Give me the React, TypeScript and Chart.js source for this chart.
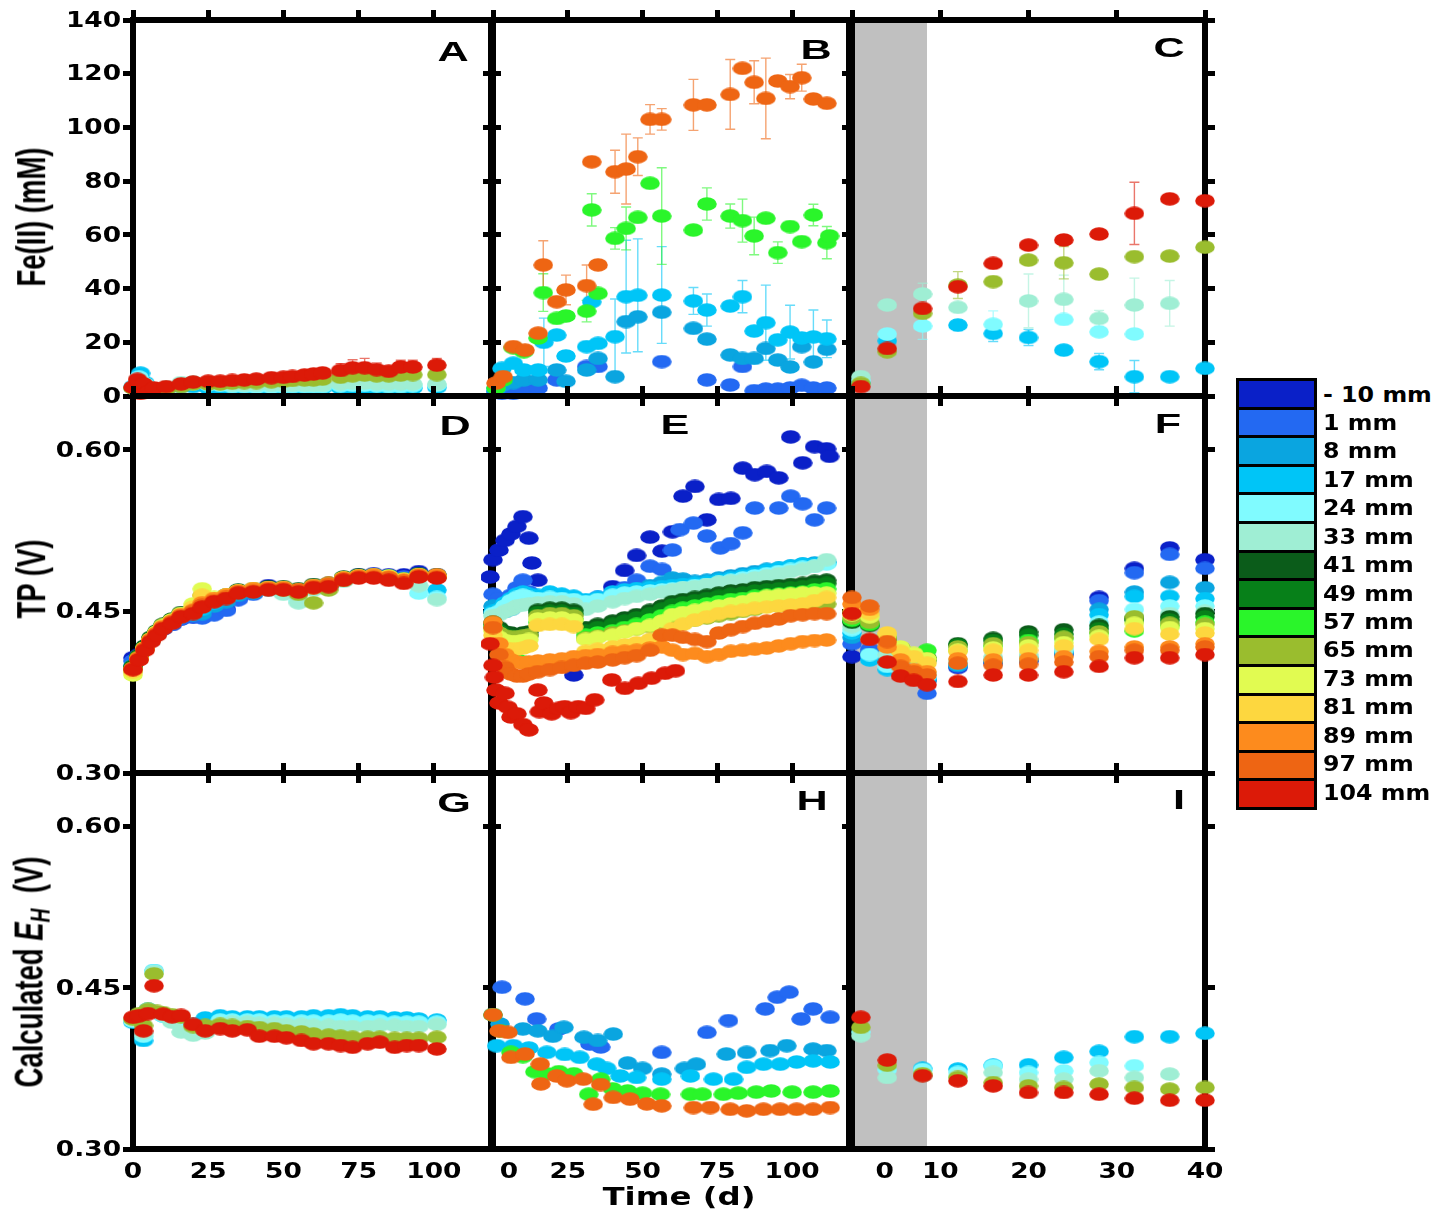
import React, { useEffect, useRef } from 'react';
import { Chart, registerables } from 'chart.js';
Chart.register(...registerables);

type Pt = number[];

// ---------- legend ----------
const depthLabels = ['- 10 mm', '1 mm', '8 mm', '17 mm', '24 mm', '33 mm', '41 mm', '49 mm', '57 mm', '65 mm', '73 mm', '81 mm', '89 mm', '97 mm', '104 mm'];
const depthColors = ['#0a20c8', '#2369f2', '#0aa5e0', '#00c5f7', '#80fbff', '#9feed4', '#0b5c1a', '#078019', '#2af52a', '#9abd2e', '#e1fb51', '#fdd73f', '#fd8b1d', '#ee6513', '#dc1a08'];

// ---------- axes ----------
const feTicks = [0, 20, 40, 60, 80, 100, 120, 140];
const potTicks = [0.3, 0.45, 0.6];
const dayTicks = [0, 25, 50, 75, 100];
const dayTicksC = [0, 10, 20, 30, 40];
const dayLabelsA: [number, string][] = [[0, '0'], [25, '25'], [50, '50'], [75, '75'], [100, '100']];
const dayLabelsB: [number, string][] = [[5.3, '0'], [25, '25'], [50, '50'], [75, '75'], [100, '100']];
const dayLabelsC: [number, string][] = [[3.7, '0'], [10, '10'], [20, '20'], [30, '30'], [40, '40']];
const shadeEndDay = 8.5;

// ---------- A: Fe(II) column 1 ----------
const feA17: Pt[] = [[0, 3.5], [2.5, 8.5], [4, 5], [11, 2.5], [16, 3.5], [20, 3.5], [25, 3], [29, 3], [33, 2.5], [37, 2.5], [41, 2.5], [46, 2.5], [50, 2.8], [53, 3], [57, 3], [60, 3], [63, 3], [69, 3], [73, 3], [77, 3], [81, 3], [85, 3], [89, 3], [93, 3], [101, 3.2]];
const feA24: Pt[] = [[0, 3.2], [2, 7], [4, 4.5], [11, 3], [16, 4.5], [20, 4.5], [25, 4.2], [29, 4], [33, 3.5], [37, 3.5], [41, 3.2], [46, 3.2], [50, 3.5], [53, 3.5], [57, 3.5], [60, 3.5], [63, 3.5], [69, 3.8], [73, 4], [77, 4], [81, 3.8], [85, 3.5], [89, 3.5], [93, 3.8], [101, 4]];
const feA33: Pt[] = [[0, 3], [2, 5.5], [4, 4], [11, 3.2], [16, 5], [20, 5.2], [25, 5], [29, 4.5], [33, 4.2], [37, 4], [41, 4], [46, 4], [50, 4], [53, 4], [57, 4], [60, 4], [63, 4], [69, 4.5], [73, 4.8], [77, 4.8], [81, 4.5], [85, 4.5], [89, 4.5], [93, 4.5], [101, 4.5]];
const feA65: Pt[] = [[0, 3], [2, 4.5], [4, 3.5], [6, 2], [11, 2.5], [16, 3.5], [20, 4.5], [25, 4.5], [29, 4.5], [33, 4.8], [37, 5], [41, 5], [46, 5.3], [50, 5.5], [53, 5.8], [57, 6], [60, 6], [63, 6.3], [69, 7], [73, 7.5], [77, 7.8], [81, 7.5], [85, 7.5], [89, 7.8], [93, 8], [101, 8]];
const feA104: Pt[] = [[0, 3.3], [1.5, 6.2], [2.5, 1], [3.5, 4.5], [5, 1.5], [7, 3], [11, 3.5], [16, 4.5], [20, 5.2], [25, 5.5], [29, 5.5], [33, 5.8], [37, 6], [41, 6.3], [46, 6.8], [50, 7], [53, 7.3], [57, 7.8], [60, 8.2], [63, 8.6], [69, 9.5, 2.5], [73, 10.5, 3], [77, 10.5, 3.5], [81, 9.8, 2.5], [85, 9.2, 2], [89, 10.8, 2.5], [93, 10.8, 2.5], [101, 11.5, 2.5]];

// ---------- B: Fe(II) column 2 ----------
const feB1: Pt[] = [[1, 1.6], [3, 1], [6.8, 1], [10.3, 2.6], [15.1, 3], [21.3, 6], [31.3, 11], [35.1, 11], [56.4, 12.8], [71.5, 6], [79.3, 4.1], [83.4, 11], [87.3, 2], [91.2, 2.6], [95.2, 2.6], [99.3, 3], [103.2, 4], [107.1, 3], [111.6, 3]];
const feB8: Pt[] = [[1, 2], [3, 4], [6.8, 5], [10.3, 6], [15.1, 6], [21.3, 9.7], [24.4, 5.5], [31.3, 9.7], [35.1, 14], [40.8, 7.2], [44.5, 27.7], [48.4, 29.5], [56.4, 31.2], [67, 25.2], [71.5, 21.2], [79.3, 15.3], [83.4, 14], [87.3, 14], [91.2, 17.7], [95.2, 13.4], [99.3, 10.8], [103.2, 18.4], [107.1, 12.7], [111.6, 17.4]];
const feB17: Pt[] = [[1, 3], [3, 10.3], [6.8, 12.2], [10.3, 9.7], [15.1, 9.7], [17, 20, 9], [21.3, 22.7], [24.4, 14.9], [31.3, 18.4], [33, 35.1], [35.1, 19.6], [40.8, 22.1, 14], [44.5, 37, 21], [48.4, 37.5, 21], [56.4, 37.6, 18], [67, 35.4, 5], [71.5, 32, 6], [79.3, 33.5], [83.4, 37, 6], [87.3, 24.2], [91.2, 27.3, 14], [95.2, 20.9], [99.3, 23.8, 10], [103.2, 21.6], [107.1, 22, 10], [111.6, 21.3, 7]];
const feB57: Pt[] = [[1, 3], [3.4, 6], [6.8, 18], [10.3, 16.5], [15.1, 21.6], [16.8, 38.5, 7], [21.3, 28.9], [24.4, 29.8], [31.3, 31.6, 4], [33, 69.3, 6], [35.1, 38.2], [40.8, 58.7, 4], [44.5, 62.4, 8], [48.4, 66.5], [52.5, 79.2], [56.4, 67, 18], [67, 61.8], [71.5, 71.5, 6], [79.3, 67, 4.5], [83.4, 65.3, 8], [87.3, 59.6, 7], [91.2, 66.2], [95.2, 53.4, 4], [99.3, 63.1], [103.2, 57.5], [107.1, 67.4, 4], [111.6, 57.1, 6], [112.5, 59.6]];
const feB97: Pt[] = [[1, 4.8], [3.4, 7.2], [6.8, 18.4], [10.7, 17.1], [15.1, 23.4], [16.8, 48.8, 9], [21.3, 35.1], [24.4, 39.5, 5.5], [31.3, 41.1, 7.7], [33, 87.2], [35.1, 48.8], [40.8, 83.5, 8], [44.5, 84.5, 13], [48.4, 89.1, 7], [52.5, 103, 5.5], [56.4, 103, 4], [67, 108.4, 9.5], [71.5, 108.4], [79.3, 112.3, 13], [83.4, 122], [87.3, 116.8, 8], [91.2, 110.8, 15], [95.2, 117.3], [99.3, 115.2, 4.5], [103.2, 118.5, 5], [107.1, 110.6], [111.6, 109]];

// ---------- C and I: column 3 sampling days ----------
const tC = [1, 4, 8, 12, 16, 20, 24, 28, 32, 36, 40];
const feC17 = [5, 20.6, null, 26.4, 23.3, 21.8, 17.1, 12.8, 7.2, 7.2, 10.3];
const feC24 = [6, 23.1, 26.1, null, 26.7, null, 28.5, 23.9, 23.1, null, null];
const feC33 = [7.2, 33.9, 38, 33, null, 35.4, 36, 28.9, 33.9, 34.5, null];
const feC65 = [4.7, 16.5, 30.8, 41.3, 42.6, 50.6, 49.6, 45.4, 51.9, 52.1, 55.4];
const feC104 = [3.5, 17.7, 32.6, 40.7, 49.4, 56.2, 58.1, 60.3, 68, 73.4, 72.7];
const errC17 = [0, 0, 0, 2, 3, 3, 0, 3, 6, 0, 0];
const errC24 = [0, 0, 5, 0, 5, 0, 0, 0, 0, 0, 0];
const errC33 = [0, 0, 4, 0, 0, 10, 9, 3, 10, 8.5, 0];
const errC65 = [0, 2, 0, 5, 0, 0, 6, 0, 0, 0, 0];
const errC104 = [0, 0, 0, 0, 0, 0, 0, 0, 11.6, 0, 0];

// ---------- D: TP column 1 (rows = depths -10 .. 104 mm) ----------
const tD = [0, 2, 4, 6, 8, 10, 13, 16, 20, 23, 27, 31, 35, 40, 45, 50, 55, 60, 65, 70, 75, 80, 85, 90, 95, 101];
const tpD: number[][] = [
  [0.407, 0.410, 0.417, 0.424, 0.429, 0.434, 0.438, 0.443, 0.445, 0.445, 0.448, 0.452, 0.462, 0.467, 0.474, 0.471, 0.469, 0.474, 0.475, 0.481, 0.484, 0.485, 0.484, 0.484, 0.487, 0.484],
  [0.404, 0.409, 0.416, 0.423, 0.429, 0.434, 0.438, 0.443, 0.445, 0.444, 0.447, 0.451, 0.461, 0.466, 0.471, 0.470, 0.469, 0.473, 0.474, 0.480, 0.483, 0.484, 0.483, 0.482, 0.485, 0.483],
  [0.400, 0.408, 0.417, 0.424, 0.430, 0.435, 0.440, 0.445, 0.447, 0.448, 0.455, 0.459, 0.465, 0.467, 0.470, 0.469, 0.468, 0.472, 0.474, 0.480, 0.483, 0.483, 0.482, 0.480, 0.484, 0.482],
  [0.399, 0.408, 0.417, 0.424, 0.430, 0.436, 0.440, 0.446, 0.449, 0.452, 0.458, 0.462, 0.467, 0.469, 0.471, 0.470, 0.468, 0.472, 0.474, 0.480, 0.483, 0.484, 0.483, 0.480, 0.484, 0.470],
  [0.398, 0.408, 0.417, 0.425, 0.431, 0.436, 0.441, 0.447, 0.451, 0.457, 0.462, 0.465, 0.469, 0.470, 0.471, 0.467, 0.460, 0.471, 0.473, 0.479, 0.483, 0.483, 0.482, 0.479, 0.467, 0.463],
  [0.397, 0.407, 0.416, 0.424, 0.430, 0.436, 0.441, 0.446, 0.450, 0.456, 0.461, 0.464, 0.468, 0.470, 0.470, 0.466, 0.458, 0.470, 0.472, 0.478, 0.482, 0.482, 0.481, 0.478, 0.474, 0.461],
  [0.399, 0.409, 0.418, 0.426, 0.432, 0.438, 0.443, 0.449, 0.452, 0.458, 0.462, 0.465, 0.470, 0.471, 0.473, 0.473, 0.471, 0.475, 0.476, 0.482, 0.484, 0.484, 0.483, 0.480, 0.485, 0.484],
  [0.398, 0.408, 0.417, 0.425, 0.431, 0.437, 0.442, 0.448, 0.451, 0.457, 0.461, 0.464, 0.469, 0.470, 0.472, 0.472, 0.470, 0.474, 0.475, 0.481, 0.483, 0.483, 0.482, 0.479, 0.484, 0.483],
  [0.397, 0.407, 0.416, 0.424, 0.430, 0.436, 0.441, 0.447, 0.450, 0.456, 0.461, 0.464, 0.468, 0.470, 0.471, 0.471, 0.469, 0.473, 0.475, 0.481, 0.483, 0.483, 0.482, 0.479, 0.484, 0.483],
  [0.394, 0.407, 0.416, 0.424, 0.431, 0.437, 0.442, 0.448, 0.454, 0.465, 0.462, 0.465, 0.469, 0.470, 0.471, 0.470, 0.466, 0.458, 0.470, 0.479, 0.482, 0.483, 0.482, 0.479, 0.483, 0.482],
  [0.391, 0.406, 0.416, 0.424, 0.431, 0.437, 0.442, 0.448, 0.457, 0.471, 0.463, 0.465, 0.469, 0.471, 0.472, 0.472, 0.469, 0.472, 0.475, 0.481, 0.483, 0.484, 0.483, 0.480, 0.484, 0.483],
  [0.394, 0.406, 0.416, 0.424, 0.430, 0.436, 0.441, 0.447, 0.454, 0.465, 0.462, 0.465, 0.469, 0.471, 0.472, 0.472, 0.470, 0.474, 0.475, 0.481, 0.483, 0.483, 0.482, 0.479, 0.484, 0.483],
  [0.397, 0.407, 0.416, 0.424, 0.430, 0.436, 0.441, 0.447, 0.451, 0.458, 0.462, 0.465, 0.469, 0.471, 0.472, 0.472, 0.470, 0.474, 0.476, 0.481, 0.483, 0.484, 0.482, 0.479, 0.484, 0.484],
  [0.397, 0.406, 0.415, 0.423, 0.429, 0.435, 0.440, 0.446, 0.450, 0.456, 0.460, 0.463, 0.468, 0.469, 0.471, 0.471, 0.470, 0.473, 0.475, 0.480, 0.482, 0.482, 0.481, 0.478, 0.483, 0.482],
  [0.396, 0.405, 0.414, 0.422, 0.428, 0.434, 0.439, 0.445, 0.448, 0.454, 0.459, 0.462, 0.467, 0.468, 0.470, 0.470, 0.468, 0.472, 0.473, 0.479, 0.481, 0.481, 0.479, 0.476, 0.482, 0.481],
];

// ---------- E: TP column 2 ----------
const tpEm10: Pt[] = [[-1, 0.482], [0, 0.498], [2, 0.507], [4, 0.516], [6, 0.522], [8, 0.529], [10, 0.538], [12, 0.518], [13, 0.495], [15, 0.479], [27, 0.391], [40, 0.473], [44, 0.488], [48, 0.502], [52.5, 0.519], [56.5, 0.506], [60, 0.524], [63.5, 0.557], [67.5, 0.566], [71.5, 0.535], [75.5, 0.554], [79.5, 0.555], [83.5, 0.583], [87.5, 0.577], [91.5, 0.58], [95.5, 0.574], [99.5, 0.612], [103.5, 0.588], [107.5, 0.603], [111.5, 0.601], [112.5, 0.594]];
const tpE1: Pt[] = [[0, 0.466], [2, 0.462], [4, 0.458], [6, 0.465], [8, 0.472], [10, 0.479], [12, 0.468], [14, 0.46], [16, 0.456], [19, 0.452], [23, 0.455], [27, 0.457], [31, 0.46], [35, 0.463], [40, 0.466], [44, 0.472], [48, 0.479], [52.5, 0.492], [56.5, 0.489], [60, 0.507], [62.5, 0.526], [67, 0.532], [71.5, 0.52], [76, 0.509], [79.5, 0.513], [83.5, 0.523], [87.5, 0.546], [95.5, 0.546], [99.5, 0.557], [103.5, 0.55], [107.5, 0.535], [111.5, 0.546]];
const tpE104: Pt[] = [[-1, 0.42], [0, 0.4], [0.5, 0.389], [1, 0.377], [2, 0.365], [4, 0.374], [5, 0.361], [6, 0.352], [8, 0.355], [10, 0.345], [12, 0.34], [15, 0.377], [15.5, 0.357], [17, 0.365], [19.6, 0.355], [22, 0.36], [24, 0.3616], [26, 0.356], [28.5, 0.3616], [31, 0.36], [34, 0.368], [39.7, 0.3864], [44.1, 0.3786], [48.6, 0.3833], [53, 0.388], [57.5, 0.3926], [61, 0.395]];
const tE = [0, 2, 4, 6, 8, 10, 12, 15, 19, 23, 27, 31, 35, 40, 44, 48, 52.5, 56.5, 60, 63.5, 67.5, 71.5, 75.5, 79.5, 83.5, 87.5, 91.5, 95.5, 99.5, 103.5, 107.5, 111.5];
// rows = depths 8 .. 97 mm
const tpE: number[][] = [
  [0.455, 0.452, 0.45, 0.452, 0.458, 0.463, 0.46, 0.456, 0.466, 0.465, 0.463, 0.457, 0.46, 0.464, 0.468, 0.471, 0.474, 0.477, 0.481, 0.48, 0.478, 0.479, 0.481, 0.483, 0.485, 0.487, 0.489, 0.49, 0.492, 0.494, 0.495, 0.496],
  [0.45, 0.452, 0.458, 0.462, 0.466, 0.468, 0.466, 0.465, 0.468, 0.466, 0.464, 0.461, 0.463, 0.468, 0.47, 0.471, 0.472, 0.473, 0.474, 0.475, 0.476, 0.477, 0.479, 0.481, 0.483, 0.485, 0.488, 0.49, 0.492, 0.494, 0.494, 0.495],
  [0.448, 0.45, 0.455, 0.46, 0.463, 0.465, 0.463, 0.462, 0.463, 0.462, 0.461, 0.459, 0.461, 0.465, 0.467, 0.468, 0.469, 0.47, 0.471, 0.472, 0.474, 0.475, 0.477, 0.479, 0.481, 0.483, 0.485, 0.487, 0.489, 0.491, 0.492, 0.494],
  [0.446, 0.447, 0.45, 0.452, 0.455, 0.456, 0.457, 0.458, 0.459, 0.459, 0.457, 0.452, 0.455, 0.459, 0.462, 0.464, 0.466, 0.468, 0.47, 0.472, 0.473, 0.475, 0.477, 0.478, 0.479, 0.481, 0.483, 0.485, 0.487, 0.489, 0.492, 0.498],
  [0.44, 0.435, 0.431, 0.43, 0.428, 0.43, 0.431, 0.451, 0.453, 0.453, 0.451, 0.435, 0.438, 0.441, 0.444, 0.447, 0.451, 0.455, 0.459, 0.461, 0.463, 0.465, 0.467, 0.469, 0.47, 0.472, 0.473, 0.474, 0.475, 0.476, 0.478, 0.479],
  [0.438, 0.432, 0.428, 0.427, 0.426, 0.427, 0.428, 0.449, 0.45, 0.45, 0.448, 0.432, 0.435, 0.438, 0.441, 0.444, 0.448, 0.452, 0.456, 0.458, 0.46, 0.462, 0.464, 0.466, 0.467, 0.469, 0.47, 0.471, 0.472, 0.473, 0.475, 0.476],
  [0.436, 0.425, 0.415, 0.41, 0.405, 0.403, 0.402, 0.44, 0.445, 0.445, 0.443, 0.428, 0.43, 0.432, 0.435, 0.438, 0.442, 0.446, 0.45, 0.453, 0.455, 0.457, 0.459, 0.461, 0.462, 0.464, 0.465, 0.466, 0.467, 0.468, 0.47, 0.471],
  [0.435, 0.43, 0.427, 0.426, 0.426, 0.427, 0.428, 0.446, 0.448, 0.448, 0.446, 0.425, 0.427, 0.43, 0.432, 0.434, 0.436, 0.438, 0.44, 0.441, 0.442, 0.444, 0.446, 0.448, 0.45, 0.452, 0.455, 0.455, 0.456, 0.456, 0.457, 0.457],
  [0.432, 0.426, 0.423, 0.422, 0.422, 0.423, 0.424, 0.443, 0.444, 0.444, 0.442, 0.424, 0.426, 0.428, 0.431, 0.434, 0.437, 0.441, 0.447, 0.449, 0.451, 0.453, 0.455, 0.457, 0.459, 0.462, 0.464, 0.465, 0.466, 0.467, 0.467, 0.467],
  [0.428, 0.42, 0.416, 0.415, 0.415, 0.416, 0.418, 0.437, 0.438, 0.438, 0.436, 0.413, 0.415, 0.417, 0.419, 0.421, 0.424, 0.428, 0.434, 0.438, 0.442, 0.445, 0.448, 0.45, 0.451, 0.453, 0.454, 0.455, 0.456, 0.457, 0.46, 0.463],
  [0.44, 0.42, 0.41, 0.405, 0.403, 0.402, 0.403, 0.404, 0.405, 0.406, 0.408, 0.409, 0.41, 0.412, 0.413, 0.414, 0.416, 0.417, 0.414, 0.41, 0.411, 0.408, 0.41, 0.413, 0.414, 0.415, 0.416, 0.418, 0.42, 0.422, 0.423, 0.4235],
  [0.435, 0.41, 0.398, 0.392, 0.39, 0.39, 0.392, 0.394, 0.396, 0.398, 0.4, 0.402, 0.403, 0.405, 0.407, 0.409, 0.414, 0.428, 0.428, 0.426, 0.424, 0.422, 0.43, 0.433, 0.436, 0.439, 0.441, 0.443, 0.446, 0.447, 0.448, 0.448],
];

// ---------- F: TP column 3 (rows = depths -10 .. 104 mm) ----------
const tF = [0, 2, 4, 5.5, 7, 8.5, 12, 16, 20, 24, 28, 32, 36, 40];
const tpF: number[][] = [
  [0.408, 0.412, 0.405, 0.398, 0.392, 0.386, 0.398, 0.402, 0.404, 0.41, 0.463, 0.49, 0.509, 0.498],
  [0.42, 0.415, 0.41, 0.402, 0.395, 0.374, 0.399, 0.403, 0.405, 0.411, 0.46, 0.486, 0.503, 0.49],
  [0.426, 0.41, 0.404, 0.398, 0.392, 0.386, 0.4, 0.404, 0.406, 0.412, 0.452, 0.468, 0.477, 0.472],
  [0.43, 0.405, 0.396, 0.394, 0.39, 0.388, 0.401, 0.405, 0.407, 0.413, 0.447, 0.464, 0.464, 0.462],
  [0.433, 0.41, 0.399, 0.396, 0.393, 0.39, 0.403, 0.406, 0.408, 0.414, 0.44, 0.452, 0.455, 0.455],
  [0.436, 0.425, 0.41, 0.4, 0.396, 0.393, 0.405, 0.408, 0.41, 0.416, 0.436, 0.445, 0.448, 0.45],
  [0.44, 0.437, 0.425, 0.416, 0.41, 0.405, 0.42, 0.425, 0.431, 0.433, 0.437, 0.444, 0.445, 0.448],
  [0.441, 0.438, 0.426, 0.416, 0.41, 0.407, 0.419, 0.423, 0.428, 0.429, 0.434, 0.442, 0.442, 0.445],
  [0.442, 0.438, 0.424, 0.414, 0.409, 0.414, 0.414, 0.418, 0.423, 0.425, 0.43, 0.432, 0.437, 0.44],
  [0.444, 0.44, 0.425, 0.416, 0.41, 0.406, 0.417, 0.42, 0.421, 0.426, 0.431, 0.445, 0.439, 0.438],
  [0.447, 0.445, 0.428, 0.417, 0.411, 0.406, 0.414, 0.416, 0.418, 0.421, 0.427, 0.439, 0.435, 0.434],
  [0.45, 0.448, 0.43, 0.413, 0.408, 0.402, 0.413, 0.414, 0.414, 0.418, 0.424, 0.434, 0.429, 0.43],
  [0.457, 0.452, 0.417, 0.405, 0.396, 0.394, 0.406, 0.405, 0.406, 0.408, 0.413, 0.417, 0.417, 0.42],
  [0.463, 0.455, 0.422, 0.399, 0.394, 0.391, 0.402, 0.4, 0.401, 0.403, 0.408, 0.414, 0.414, 0.417],
  [0.448, 0.424, 0.403, 0.39, 0.386, 0.382, 0.385, 0.391, 0.391, 0.394, 0.399, 0.407, 0.407, 0.41],
];

// ---------- G: Calculated EH column 1 ----------
const ehG17: Pt[] = [[0, 0.418], [3.5, 0.401], [5, 0.43], [7, 0.466], [10, 0.424], [13, 0.42], [16, 0.418], [20, 0.416], [24, 0.422], [29, 0.424], [33, 0.423], [38, 0.423], [42, 0.423], [47, 0.423], [51, 0.423], [56, 0.423], [60, 0.424], [65, 0.424], [69, 0.425], [73, 0.424], [78, 0.423], [82, 0.423], [87, 0.422], [91, 0.422], [95, 0.421], [101, 0.42]];
const ehG24: Pt[] = [[0, 0.419], [3.5, 0.405], [5, 0.43], [7, 0.466], [10, 0.424], [13, 0.42], [16, 0.415], [20, 0.41], [24, 0.412], [29, 0.42], [33, 0.42], [38, 0.42], [42, 0.42], [47, 0.419], [51, 0.419], [56, 0.419], [60, 0.419], [65, 0.419], [69, 0.42], [73, 0.419], [78, 0.419], [82, 0.419], [87, 0.418], [91, 0.418], [95, 0.418], [101, 0.418]];
const ehG33: Pt[] = [[0, 0.42], [3.5, 0.408], [5, 0.428], [7, 0.465], [10, 0.425], [13, 0.418], [16, 0.409], [20, 0.406], [24, 0.408], [29, 0.417], [33, 0.418], [38, 0.418], [42, 0.417], [47, 0.417], [51, 0.416], [56, 0.416], [60, 0.415], [65, 0.415], [69, 0.414], [73, 0.414], [78, 0.414], [82, 0.415], [87, 0.415], [91, 0.414], [95, 0.414], [101, 0.416]];
const ehG65: Pt[] = [[0, 0.421], [2, 0.426], [3.5, 0.415], [5, 0.43], [7, 0.463], [8, 0.428], [10, 0.427], [13, 0.425], [16, 0.423], [20, 0.414], [24, 0.415], [29, 0.416], [33, 0.415], [38, 0.414], [42, 0.413], [47, 0.412], [51, 0.41], [56, 0.409], [60, 0.407], [65, 0.406], [69, 0.405], [73, 0.404], [78, 0.404], [82, 0.404], [87, 0.403], [91, 0.403], [95, 0.403], [101, 0.404]];
const ehG104: Pt[] = [[0, 0.4226], [2, 0.424], [3.5, 0.41], [5, 0.426], [7, 0.452], [10, 0.4255], [13, 0.423], [16, 0.4243], [20, 0.416], [24, 0.41], [29, 0.412], [33, 0.41], [38, 0.411], [42, 0.405], [47, 0.405], [51, 0.4035], [56, 0.401], [60, 0.398], [65, 0.398], [69, 0.3963], [73, 0.3947], [78, 0.398], [82, 0.3994], [87, 0.3947], [91, 0.3963], [95, 0.3963], [101, 0.3932]];

// ---------- H: Calculated EH column 2 ----------
const ehH1: Pt[] = [[3, 0.4506], [10.7, 0.4398], [14.6, 0.4211], [22, 0.4118], [32.4, 0.3977], [36, 0.395], [56.4, 0.39], [71.5, 0.4086], [78.7, 0.4195], [91, 0.4304], [95, 0.4413], [99, 0.446], [103, 0.4211], [107, 0.4304], [112.7, 0.4226]];
const ehH8: Pt[] = [[0, 0.425], [2.3, 0.4164], [10, 0.4118], [15, 0.41], [20, 0.405], [23.7, 0.4133], [30.4, 0.404], [35, 0.401], [40.2, 0.407], [45, 0.38], [50, 0.375], [56.4, 0.3697], [64, 0.375], [68, 0.379], [78, 0.3884], [84.8, 0.39], [92.6, 0.3916], [98.2, 0.3962], [107, 0.393], [111.6, 0.3916]];
const ehH17: Pt[] = [[1.2, 0.3962], [6.8, 0.3962], [12, 0.394], [18, 0.39], [24, 0.388], [29, 0.3853], [34.7, 0.379], [38, 0.375], [42.5, 0.368], [48, 0.3666], [56.4, 0.365], [66, 0.368], [73.7, 0.365], [80.4, 0.365], [84.8, 0.376], [90.4, 0.379], [96, 0.379], [101.5, 0.381], [107, 0.382], [112.7, 0.381]];
const ehH57: Pt[] = [[0, 0.425], [2.5, 0.41], [6, 0.39], [10, 0.386], [14, 0.372], [18, 0.37], [22, 0.372], [27, 0.37], [32, 0.351], [36, 0.365], [40, 0.356], [45, 0.354], [50, 0.352], [56, 0.351], [66, 0.351], [70, 0.351], [77, 0.351], [82, 0.352], [88, 0.353], [93, 0.354], [100, 0.353], [107, 0.353], [112.7, 0.354]];
const ehH97: Pt[] = [[0, 0.425], [2, 0.41], [5, 0.4086], [6, 0.3853], [10.7, 0.3884], [15.8, 0.3791], [16, 0.3606], [21.3, 0.368], [24.7, 0.3635], [30.2, 0.365], [33.5, 0.3417], [36, 0.36], [40.2, 0.348], [45.8, 0.3464], [51.4, 0.342], [56.4, 0.3402], [67, 0.3386], [72.6, 0.3386], [79.3, 0.337], [84.8, 0.3355], [90.4, 0.337], [96, 0.337], [101.5, 0.337], [107, 0.337], [112.7, 0.3386]];

// ---------- I: Calculated EH column 3 ----------
const ehI17 = [null, null, 0.375, 0.3744, 0.378, 0.3784, 0.3853, 0.3909, 0.4046, 0.4046, 0.4077];
const ehI24 = [0.409, 0.374, 0.374, 0.3713, 0.3775, 0.3713, 0.3728, 0.3806, 0.3775, null, null];
const ehI33 = [0.4055, 0.3666, 0.368, 0.368, 0.3713, 0.365, 0.365, 0.3728, 0.3666, 0.3697, null];
const ehI65 = [0.4133, 0.378, 0.37, 0.3666, 0.3619, 0.3588, 0.3573, 0.3604, 0.3573, 0.3557, 0.3573];
const ehI104 = [0.4226, 0.3828, 0.3682, 0.3635, 0.3588, 0.3526, 0.3526, 0.351, 0.3473, 0.3454, 0.3454];

// ---------- assembly ----------
function zip(t: number[], v: (number | null)[], e?: number[]): Pt[] {
  const out: Pt[] = [];
  t.forEach((x, i) => { const y = v[i]; if (y != null) out.push([x, y, e ? e[i] : 0]); });
  return out;
}

interface Series { d: number; pts: Pt[] }
interface Panel { key: string; col: number; row: number; series: Series[]; lx: number; ly: number }

const PANELS: Panel[] = [
  { key: 'A', col: 0, row: 0, lx: 453, ly: 52, series: [{ d: 3, pts: feA17 }, { d: 4, pts: feA24 }, { d: 5, pts: feA33 }, { d: 9, pts: feA65 }, { d: 14, pts: feA104 }] },
  { key: 'B', col: 1, row: 0, lx: 816, ly: 50, series: [{ d: 1, pts: feB1 }, { d: 2, pts: feB8 }, { d: 3, pts: feB17 }, { d: 8, pts: feB57 }, { d: 13, pts: feB97 }] },
  { key: 'C', col: 2, row: 0, lx: 1169, ly: 48, series: [{ d: 3, pts: zip(tC, feC17, errC17) }, { d: 4, pts: zip(tC, feC24, errC24) }, { d: 5, pts: zip(tC, feC33, errC33) }, { d: 9, pts: zip(tC, feC65, errC65) }, { d: 14, pts: zip(tC, feC104, errC104) }] },
  { key: 'D', col: 0, row: 1, lx: 455, ly: 426, series: tpD.map((row, d) => ({ d, pts: zip(tD, row) })) },
  { key: 'E', col: 1, row: 1, lx: 675, ly: 425, series: [{ d: 0, pts: tpEm10 }, { d: 1, pts: tpE1 }, ...tpE.map((row, i) => ({ d: i + 2, pts: zip(tE, row) })), { d: 14, pts: tpE104 }] },
  { key: 'F', col: 2, row: 1, lx: 1168, ly: 424, series: tpF.map((row, d) => ({ d, pts: zip(tF, row) })) },
  { key: 'G', col: 0, row: 2, lx: 454, ly: 803, series: [{ d: 3, pts: ehG17 }, { d: 4, pts: ehG24 }, { d: 5, pts: ehG33 }, { d: 9, pts: ehG65 }, { d: 14, pts: ehG104 }] },
  { key: 'H', col: 1, row: 2, lx: 812, ly: 801, series: [{ d: 1, pts: ehH1 }, { d: 2, pts: ehH8 }, { d: 3, pts: ehH17 }, { d: 8, pts: ehH57 }, { d: 13, pts: ehH97 }] },
  { key: 'I', col: 2, row: 2, lx: 1179, ly: 800, series: [{ d: 3, pts: zip(tC, ehI17) }, { d: 4, pts: zip(tC, ehI24) }, { d: 5, pts: zip(tC, ehI33) }, { d: 9, pts: zip(tC, ehI65) }, { d: 14, pts: zip(tC, ehI104) }] },
];

const COLS = [[133, 491], [493, 849], [852, 1205]];
const ROWS = [[20, 396], [396, 773], [773, 1149]];
const XR = [[0, 119], [0, 119], [0, 40]];
const YR = [[0, 140], [0.3, 0.65], [0.3, 0.65]];

function geom(col: number, row: number) {
  const padL = col === 0 ? 133 : 30, padR = 30, padT = row === 0 ? 20 : 30, padB = row === 2 ? 60 : 30;
  const [x0, x1] = COLS[col]; const [y0, y1] = ROWS[row];
  return { left: x0 - padL, top: y0 - padT, w: x1 - x0 + padL + padR, h: y1 - y0 + padT + padB, padL, padR, padT, padB };
}

const ellipseCache: Record<string, HTMLCanvasElement> = {};
function ellipse(color: string) {
  if (ellipseCache[color]) return ellipseCache[color];
  const c = document.createElement('canvas'); c.width = 20; c.height = 14;
  const g = c.getContext('2d')!; g.fillStyle = color; g.beginPath(); g.ellipse(10, 7, 9.8, 6.8, 0, 0, Math.PI * 2); g.fill();
  ellipseCache[color] = c; return c;
}
function rgba(hex: string, a: number) {
  const n = parseInt(hex.slice(1), 16); return `rgba(${(n >> 16) & 255},${(n >> 8) & 255},${n & 255},${a})`;
}
function stretchText(ctx: CanvasRenderingContext2D, t: string, x: number, y: number, sx: number) {
  ctx.save(); ctx.translate(x, y); ctx.scale(sx, 1); ctx.fillText(t, 0, 0); ctx.restore();
}

function makeChart(canvas: HTMLCanvasElement, p: Panel) {
  const g = geom(p.col, p.row);
  const xT = p.col === 2 ? dayTicksC : dayTicks;
  const yT = p.row === 0 ? feTicks : potTicks;
  const [xmin, xmax] = XR[p.col]; const [ymin, ymax] = YR[p.row];
  const axis = (ax: string, pos: string, min: number, max: number, ticks: number[], size: number, drawTicks: boolean) => ({
    type: 'linear', axis: ax, position: pos, min, max,
    afterBuildTicks: (s: any) => { s.ticks = ticks.map((v) => ({ value: v })); },
    afterFit: (s: any) => { if (ax === 'x') s.height = size; else s.width = size; },
    ticks: { display: false },
    grid: { display: true, drawOnChartArea: false, drawTicks, tickLength: 10, lineWidth: 5, color: '#000' },
    border: { display: true, width: 6, color: '#000' },
  });
  const xLabels = p.col === 0 ? dayLabelsA : p.col === 1 ? dayLabelsB : dayLabelsC;
  const plugin = {
    id: 'panelExtras',
    beforeDraw(chart: any) {
      if (p.col !== 2) return;
      const ctx = chart.ctx; const xs = chart.scales.x; const ca = chart.chartArea;
      const a = xs.getPixelForValue(0), b = xs.getPixelForValue(shadeEndDay);
      ctx.save(); ctx.fillStyle = '#c0c0c0'; ctx.fillRect(a, ca.top, b - a, ca.bottom - ca.top); ctx.restore();
    },
    beforeDatasetsDraw(chart: any) {
      const ctx = chart.ctx; const xs = chart.scales.x; const ys = chart.scales.y;
      ctx.save(); ctx.lineWidth = 1.4;
      p.series.forEach((s) => {
        ctx.strokeStyle = rgba(depthColors[s.d], 0.6);
        s.pts.forEach((pt) => {
          if (!pt[2]) return;
          const px = xs.getPixelForValue(pt[0]);
          const y1 = ys.getPixelForValue(pt[1] - pt[2]); const y2 = ys.getPixelForValue(pt[1] + pt[2]);
          ctx.beginPath(); ctx.moveTo(px, y1); ctx.lineTo(px, y2);
          ctx.moveTo(px - 5, y1); ctx.lineTo(px + 5, y1); ctx.moveTo(px - 5, y2); ctx.lineTo(px + 5, y2); ctx.stroke();
        });
      });
      ctx.restore();
    },
    afterDraw(chart: any) {
      const ctx = chart.ctx; const ca = chart.chartArea;
      ctx.save(); ctx.fillStyle = '#000'; ctx.font = 'bold 22px "DejaVu Sans", sans-serif';
      if (p.col === 0) {
        ctx.textAlign = 'right'; ctx.textBaseline = 'middle';
        const ys = chart.scales.y;
        yT.forEach((v) => stretchText(ctx, p.row === 0 ? String(v) : v.toFixed(2), ca.left - 12, ys.getPixelForValue(v) + 1, 1.2));
      }
      if (p.row === 2) {
        ctx.textAlign = 'center'; ctx.textBaseline = 'middle';
        const xs = chart.scales.x;
        xLabels.forEach(([v, t]) => stretchText(ctx, t, xs.getPixelForValue(v), ca.bottom + 23, 1.2));
      }
      ctx.restore();
    },
  };
  // Chart.js paints dataset 0 last (on top); deeper probes sit on top, so reverse.
  const datasets = p.series.map((s) => ({
    label: depthLabels[s.d],
    data: s.pts.map((pt) => ({ x: pt[0], y: pt[1] })),
    pointStyle: ellipse(depthColors[s.d]) as any,
    pointRadius: 10, pointHoverRadius: 10, borderWidth: 0,
    backgroundColor: depthColors[s.d], borderColor: depthColors[s.d],
    showLine: false, clip: 12,
  })).reverse();
  return new Chart(canvas, {
    type: 'scatter',
    data: { datasets },
    options: {
      animation: false, responsive: false, devicePixelRatio: 1, events: [],
      layout: { padding: 0 },
      plugins: { legend: { display: false }, tooltip: { enabled: false } },
      scales: {
        x: axis('x', 'bottom', xmin, xmax, xT, g.padB, p.row !== 2),
        x2: axis('x', 'top', xmin, xmax, xT, g.padT, true),
        y: axis('y', 'left', ymin, ymax, yT, g.padL, true),
        y2: axis('y', 'right', ymin, ymax, yT, g.padR, true),
      } as any,
    },
    plugins: [plugin],
  } as any);
}

const boldFont = '"Liberation Sans", Arial, sans-serif';
const heavyFont = '"DejaVu Sans", sans-serif';

export default function App() {
  const refs = useRef<(HTMLCanvasElement | null)[]>([]);
  useEffect(() => {
    const charts = PANELS.map((p, i) => makeChart(refs.current[i]!, p));
    return () => charts.forEach((c) => c.destroy());
  }, []);

  const rot = (cx: number, cy: number, content: React.ReactNode) => (
    <div style={{ position: 'absolute', left: cx, top: cy, transform: 'translate(-50%,-50%) rotate(-90deg) scaleY(1.45)', whiteSpace: 'nowrap', fontFamily: boldFont, fontWeight: 'bold', fontSize: 27.5, lineHeight: 1, color: '#000' }}>{content}</div>
  );

  return (
    <div style={{ position: 'absolute', left: 0, top: 0, width: 1450, height: 1211, background: '#fff', overflow: 'hidden' }}>
      {PANELS.map((p, i) => {
        const g = geom(p.col, p.row);
        return <canvas key={p.key} ref={(el) => { refs.current[i] = el; }} width={g.w} height={g.h} style={{ position: 'absolute', left: g.left, top: g.top, width: g.w, height: g.h }} />;
      })}
      {PANELS.map((p) => (
        <div key={'l' + p.key} style={{ position: 'absolute', left: p.lx, top: p.ly, transform: 'translate(-50%,-50%) scaleX(1.6)', fontFamily: boldFont, fontWeight: 'bold', fontSize: 27, lineHeight: 1, color: '#000' }}>{p.key}</div>
      ))}
      {rot(32, 217, 'Fe(II) (mM)')}
      {rot(32, 579, 'TP (V)')}
      {rot(32, 972, <span>Calculated <i>E<sub style={{ fontSize: '0.7em', verticalAlign: '-0.25em' }}>H</sub></i>&nbsp; (V)</span>)}
      <div style={{ position: 'absolute', left: 679, top: 1197, transform: 'translate(-50%,-50%) scaleX(1.35)', whiteSpace: 'nowrap', fontFamily: heavyFont, fontWeight: 'bold', fontSize: 24, lineHeight: 1, color: '#000' }}>Time (d)</div>
      <div style={{ position: 'absolute', left: 1236, top: 378, width: 81, height: 432, background: '#000', padding: 3, boxSizing: 'border-box', display: 'flex', flexDirection: 'column', gap: 3 }}>
        {depthColors.map((c) => <div key={c} style={{ flex: 1, background: c }} />)}
      </div>
      {depthLabels.map((t, i) => (
        <div key={t} style={{ position: 'absolute', left: 1323, top: 394.5 + i * 28.43, transform: 'translateY(-50%) scaleX(1.13)', transformOrigin: 'left center', whiteSpace: 'nowrap', fontFamily: heavyFont, fontWeight: 'bold', fontSize: 21, lineHeight: 1, color: '#000' }}>{t}</div>
      ))}
    </div>
  );
}
